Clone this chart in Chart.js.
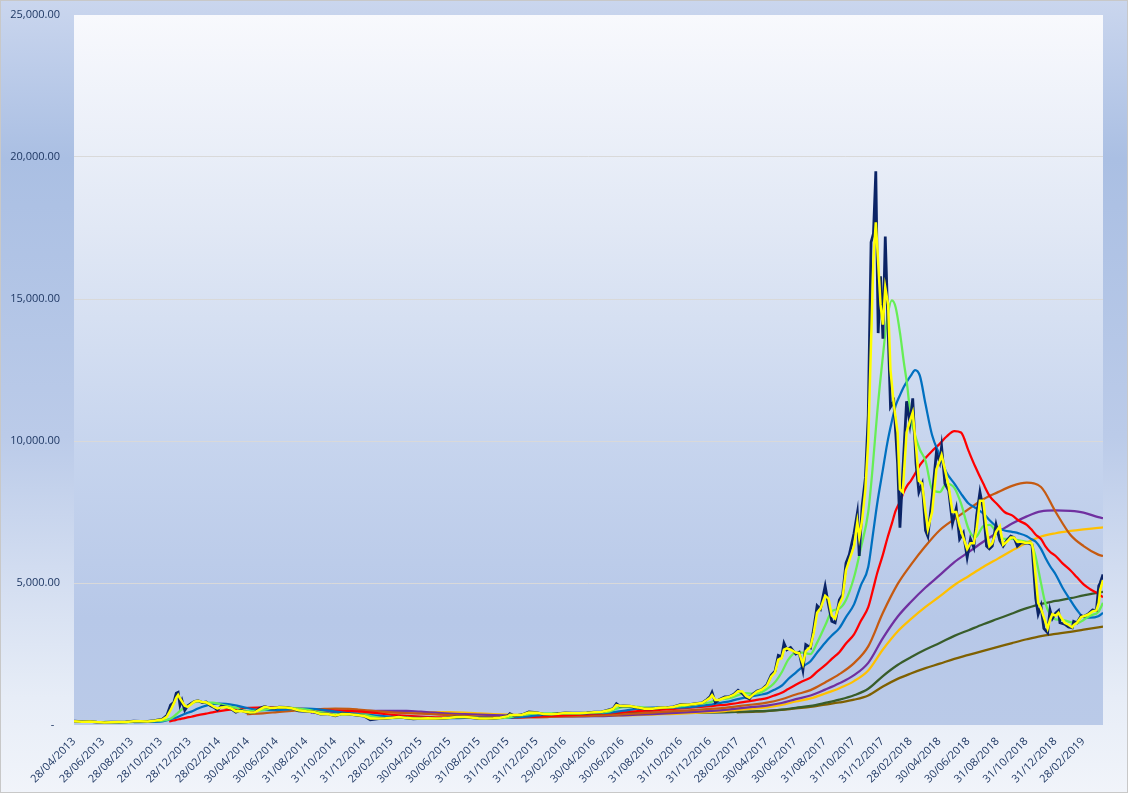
<!DOCTYPE html>
<html><head><meta charset="utf-8">
<script src="https://cdn.jsdelivr.net/npm/chart.js@4.4.1/dist/chart.umd.min.js"></script>
<style>html,body{margin:0;padding:0;background:#fff;}canvas{display:block;}</style>
</head><body>
<canvas id="c" width="1128" height="793"></canvas>
<script>
// ---------- tick labels (x axis) ----------
const tickLabels = ["28/04/2013","28/06/2013","28/08/2013","28/10/2013","28/12/2013","28/02/2014","30/04/2014","30/06/2014","31/08/2014","31/10/2014","31/12/2014","28/02/2015","30/04/2015","30/06/2015","31/08/2015","31/10/2015","31/12/2015","29/02/2016","30/04/2016","30/06/2016","31/08/2016","31/10/2016","31/12/2016","28/02/2017","30/04/2017","30/06/2017","31/08/2017","31/10/2017","31/12/2017","28/02/2018","30/04/2018","30/06/2018","31/08/2018","31/10/2018","31/12/2018","28/02/2019"];
const yTicks = [0, 5000, 10000, 15000, 20000, 25000];

// ---------- price and short average ----------
const priceDates = [
"28/04/2013","15/05/2013","01/06/2013","15/06/2013","01/07/2013","15/07/2013","01/08/2013","15/08/2013","01/09/2013","15/09/2013","01/10/2013","15/10/2013","01/11/2013","10/11/2013","18/11/2013","25/11/2013","30/11/2013","04/12/2013","08/12/2013","12/12/2013","18/12/2013","24/12/2013","31/12/2013",
"07/01/2014","15/01/2014","24/01/2014","01/02/2014","10/02/2014","18/02/2014","25/02/2014","05/03/2014","15/03/2014","25/03/2014","05/04/2014","15/04/2014","25/04/2014","05/05/2014","15/05/2014","25/05/2014","05/06/2014","15/06/2014","25/06/2014","05/07/2014","20/07/2014","01/08/2014","15/08/2014","01/09/2014","15/09/2014","01/10/2014","15/10/2014","01/11/2014","15/11/2014","01/12/2014","15/12/2014",
"01/01/2015","14/01/2015","01/02/2015","15/02/2015","01/03/2015","15/03/2015","01/04/2015","15/04/2015","01/05/2015","15/05/2015","01/06/2015","15/06/2015","01/07/2015","15/07/2015","01/08/2015","15/08/2015","01/09/2015","15/09/2015","01/10/2015","15/10/2015","01/11/2015","05/11/2015","15/11/2015","01/12/2015","15/12/2015",
"01/01/2016","15/01/2016","01/02/2016","15/02/2016","01/03/2016","15/03/2016","01/04/2016","15/04/2016","01/05/2016","15/05/2016","01/06/2016","10/06/2016","17/06/2016","24/06/2016","01/07/2016","15/07/2016","01/08/2016","15/08/2016","01/09/2016","15/09/2016","01/10/2016","15/10/2016","01/11/2016","15/11/2016","01/12/2016","15/12/2016","25/12/2016",
"01/01/2017","05/01/2017","12/01/2017","20/01/2017","01/02/2017","10/02/2017","20/02/2017","01/03/2017","10/03/2017","18/03/2017","25/03/2017","01/04/2017","10/04/2017","20/04/2017","01/05/2017","10/05/2017","18/05/2017","25/05/2017","01/06/2017","06/06/2017","12/06/2017","20/06/2017","01/07/2017","08/07/2017","16/07/2017","22/07/2017","01/08/2017","08/08/2017","15/08/2017","22/08/2017","01/09/2017","08/09/2017","15/09/2017","22/09/2017","01/10/2017","08/10/2017","15/10/2017","22/10/2017","01/11/2017","08/11/2017","12/11/2017","18/11/2017","25/11/2017","01/12/2017","07/12/2017","12/12/2017","17/12/2017","22/12/2017","27/12/2017",
"01/01/2018","06/01/2018","12/01/2018","17/01/2018","24/01/2018","01/02/2018","06/02/2018","12/02/2018","20/02/2018","27/02/2018","05/03/2018","12/03/2018","18/03/2018","25/03/2018","01/04/2018","06/04/2018","15/04/2018","24/04/2018","01/05/2018","05/05/2018","12/05/2018","20/05/2018","28/05/2018","05/06/2018","12/06/2018","20/06/2018","28/06/2018","05/07/2018","12/07/2018","18/07/2018","25/07/2018","01/08/2018","08/08/2018","14/08/2018","20/08/2018","28/08/2018","05/09/2018","12/09/2018","20/09/2018","28/09/2018","05/10/2018","12/10/2018","20/10/2018","28/10/2018","05/11/2018","12/11/2018","15/11/2018","20/11/2018","25/11/2018","01/12/2018","07/12/2018","15/12/2018","20/12/2018","25/12/2018",
"01/01/2019","07/01/2019","10/01/2019","20/01/2019","28/01/2019","05/02/2019","08/02/2019","15/02/2019","24/02/2019","01/03/2019","10/03/2019","20/03/2019","28/03/2019","02/04/2019","05/04/2019","11/04/2019"];

const price = [
135,115,129,100,90,98,105,110,140,130,125,155,205,330,700,800,1120,1150,700,870,520,670,750,
830,860,790,810,680,620,530,670,630,580,450,520,460,430,450,580,650,600,590,630,620,590,500,480,470,380,395,325,400,380,350,
315,180,225,235,260,285,245,220,232,237,223,236,258,285,281,262,228,230,237,255,325,400,320,362,465,
434,375,372,400,430,415,417,428,450,457,538,577,750,665,676,665,606,567,572,607,614,638,729,712,754,778,896,
998,1150,790,895,989,995,1080,1220,1110,970,920,1080,1200,1250,1420,1760,1890,2450,2400,2880,2650,2730,2500,2560,1930,2830,2720,3410,4200,4080,4890,4230,3650,3600,4400,4600,5700,6000,6750,7460,5950,7700,8700,10900,17000,17300,19500,13800,15800,
13600,17200,13900,11200,11400,9200,6950,8900,11400,10600,11500,9200,8200,8500,6850,6640,8000,9600,9250,9800,8500,8250,7100,7630,6550,6770,5900,6550,6250,7380,8200,7600,6300,6200,6300,7050,6500,6300,6500,6650,6600,6300,6420,6400,6400,6350,5600,4450,3900,4200,3400,3250,4050,3750,
3940,4030,3600,3550,3450,3420,3650,3600,3850,3820,3900,4050,4030,4900,5000,5300];

const maShort = [
135,118,124,104,92,96,103,108,134,131,126,148,195,290,520,760,960,1060,940,830,680,640,720,
820,850,810,800,720,640,580,620,630,590,480,490,470,440,445,540,640,610,595,625,620,590,520,485,470,390,390,335,385,375,350,
318,230,230,235,258,280,250,225,230,236,226,234,255,280,282,265,230,230,237,252,310,360,340,360,440,
430,390,375,395,425,415,417,427,448,455,520,570,700,680,670,665,620,575,575,605,612,636,715,715,745,775,880,
960,1050,880,880,960,990,1060,1190,1180,1020,960,1060,1180,1240,1380,1700,1850,2300,2350,2650,2700,2650,2550,2530,2150,2600,2750,3250,3950,4100,4550,4450,3850,3750,4250,4500,5450,5800,6300,7150,6600,7200,8300,10000,13500,16400,17700,16300,14800,
14100,15400,14800,12500,11300,10300,8300,8200,10300,10700,11000,9800,8600,8500,7500,6900,7500,9000,9300,9500,9000,8400,7500,7500,7000,6600,6200,6400,6400,6900,7900,7900,6900,6300,6400,6800,7000,6350,6450,6600,6600,6450,6450,6420,6420,6380,6100,5200,4300,4100,3800,3400,3700,3900,
3850,3950,3850,3600,3530,3440,3520,3600,3800,3830,3880,4000,4030,4300,4750,5100];

// ---------- medium averages ----------
const maDates = [
"28/04/2013","01/06/2013","01/07/2013","01/08/2013","01/09/2013","01/10/2013","01/11/2013","15/11/2013","25/11/2013","01/12/2013","08/12/2013","15/12/2013","22/12/2013",
"01/01/2014","15/01/2014","01/02/2014","15/02/2014","01/03/2014","15/03/2014","01/04/2014","01/05/2014","01/06/2014","01/07/2014","01/08/2014","01/09/2014","01/10/2014","01/11/2014","01/12/2014",
"01/01/2015","01/02/2015","01/03/2015","01/04/2015","01/05/2015","01/06/2015","01/07/2015","01/08/2015","01/09/2015","01/10/2015","01/11/2015","15/11/2015","01/12/2015",
"01/01/2016","01/02/2016","01/03/2016","01/04/2016","01/05/2016","01/06/2016","15/06/2016","01/07/2016","01/08/2016","01/09/2016","01/10/2016","01/11/2016","01/12/2016",
"01/01/2017","15/01/2017","01/02/2017","15/02/2017","01/03/2017","15/03/2017","01/04/2017","15/04/2017","01/05/2017","15/05/2017","01/06/2017","15/06/2017","01/07/2017","15/07/2017","01/08/2017","15/08/2017","01/09/2017","15/09/2017","01/10/2017","15/10/2017","01/11/2017","15/11/2017","01/12/2017","10/12/2017","20/12/2017",
"01/01/2018","10/01/2018","20/01/2018","28/01/2018","07/02/2018","14/02/2018","21/02/2018","01/03/2018","10/03/2018","20/03/2018","01/04/2018","15/04/2018","01/05/2018","15/05/2018","01/06/2018","15/06/2018","01/07/2018","15/07/2018","01/08/2018","15/08/2018","01/09/2018","15/09/2018","01/10/2018","15/10/2018","01/11/2018","10/11/2018","20/11/2018","01/12/2018","10/12/2018","20/12/2018",
"01/01/2019","15/01/2019","01/02/2019","15/02/2019","01/03/2019","15/03/2019","01/04/2019","11/04/2019"];

const maGreen = [
null,null,112,95,108,128,155,200,300,390,500,580,660,
760,830,790,790,740,680,620,490,520,615,600,540,450,375,370,
355,260,240,255,235,236,242,275,245,237,262,310,345,
405,410,405,415,440,470,560,630,640,590,608,660,730,
800,880,920,960,1050,1120,1100,1130,1270,1450,1850,2300,2550,2550,2500,2900,3500,4000,4100,4400,5200,6200,7500,9000,11000,
13000,14300,14950,14700,13700,12800,12000,10800,10200,9700,9300,8300,8200,8500,8350,7800,6900,6600,7000,7050,6700,6550,6550,6500,6450,6400,5900,5000,4300,3900,
3720,3700,3620,3580,3700,3850,3980,4300];

const maBlue = [
null,null,null,null,103,110,130,190,240,265,320,370,420,
470,580,680,740,750,740,700,590,520,525,560,580,545,470,410,
370,327,287,262,248,246,240,250,256,255,255,268,283,
335,382,405,409,415,432,465,502,573,612,617,613,648,
716,760,803,850,913,965,1016,1060,1114,1230,1382,1620,1847,2050,2246,2550,2900,3150,3409,3800,4248,4900,5567,6600,7800,
9000,9900,10700,11250,11650,11900,12100,12300,12500,12300,11300,10200,9500,8900,8500,8150,7800,7650,7450,7200,6950,6850,6800,6750,6650,6550,6450,6200,5900,5600,
5300,4850,4400,4050,3800,3780,3830,3950];

const maRed = [
null,null,null,null,null,null,null,130,160,185,210,235,260,
290,345,400,445,485,520,555,600,625,620,590,557,530,507,490,
465,410,355,320,292,272,253,249,251,249,250,258,267,
295,319,339,364,392,416,435,456,493,519,550,583,625,
668,690,709,740,775,815,857,900,947,1030,1133,1270,1419,1540,1668,1880,2106,2330,2564,2870,3193,3650,4151,4700,5350,
6000,6550,7100,7550,7900,8200,8420,8600,8850,9150,9400,9650,9900,10150,10350,10300,9650,9100,8500,8050,7750,7500,7380,7200,7050,6900,6700,6550,6300,6100,
5950,5700,5450,5200,4950,4780,4620,4500];

// ---------- long averages ----------
const longDates = [
"28/04/2014","01/06/2014","01/07/2014","01/08/2014","01/09/2014","10/09/2014","01/10/2014","01/11/2014","01/12/2014","19/12/2014",
"01/01/2015","01/02/2015","01/03/2015","01/04/2015","01/05/2015","01/06/2015","01/07/2015","01/08/2015","01/09/2015","01/10/2015","01/11/2015","01/12/2015",
"01/01/2016","23/01/2016","01/02/2016","01/03/2016","01/04/2016","01/05/2016","01/06/2016","01/07/2016","01/08/2016","01/09/2016","01/10/2016","01/11/2016","01/12/2016",
"01/01/2017","01/02/2017","26/02/2017","01/04/2017","01/05/2017","01/06/2017","01/07/2017","01/08/2017","01/09/2017","01/10/2017","01/11/2017","01/12/2017",
"01/01/2018","01/02/2018","01/03/2018","01/04/2018","01/05/2018","01/06/2018","01/07/2018","01/08/2018","01/09/2018","01/10/2018","01/11/2018","01/12/2018",
"01/01/2019","01/02/2019","01/03/2019","01/04/2019","11/04/2019"];

const maBrown = [
380,412,454,498,534,545,561,578,565,545,
527,478,443,417,397,378,347,319,295,277,268,267,
272,280,286,300,312,328,346,380,412,439,470,501,532,
565,607,655,722,787,907,1073,1227,1499,1790,2179,2769,
3950,4958,5636,6300,6858,7250,7600,7950,8200,8420,8530,8380,
7500,6700,6300,6000,5950];

const maPurple = [
null,null,null,null,null,440,445,453,470,480,
485,493,498,494,468,432,401,381,364,350,334,318,
308,304,303,302,305,309,319,343,368,387,410,434,462,
496,536,580,635,685,775,911,1037,1245,1467,1754,2188,
3059,3811,4331,4841,5274,5736,6088,6452,6788,7093,7347,7521,
7553,7536,7476,7318,7280];

const maGold = [
null,null,null,null,null,null,null,null,null,420,
423,430,437,446,452,457,455,438,410,382,363,353,
351,348,345,335,325,321,323,337,352,365,383,403,427,
456,491,528,575,624,708,827,935,1110,1297,1546,1920,
2659,3293,3727,4157,4528,4929,5240,5562,5859,6146,6421,6636,
6752,6832,6888,6941,6960];

const maDarkGreen = [
null,null,null,null,null,null,null,null,null,null,
null,null,null,null,null,null,null,null,null,null,null,null,
null,365,366,375,384,395,405,421,434,435,428,423,425,
433,447,462,480,498,540,607,672,778,892,1046,1276,
1725,2113,2386,2656,2888,3139,3339,3546,3739,3928,4113,4265,
4367,4464,4562,4663,4690];

const maOlive = [
null,null,null,null,null,null,null,null,null,null,
null,null,null,null,null,null,null,null,null,null,null,null,
null,null,null,null,null,null,null,null,null,null,null,null,null,
null,null,443,465,489,529,584,635,716,793,891,1042,
1354,1624,1814,2001,2160,2331,2467,2612,2749,2885,3019,3131,
3206,3280,3356,3436,3460];

// ---------- helpers ----------
function toUTC(s){ const p = s.split('/').map(Number); return Date.UTC(p[2], p[1]-1, p[0]); }
const origin = toUTC(priceDates[0]);
function dayIndex(s){ return Math.round((toUTC(s) - origin) / 86400000); }
function pts(dates, vals){ return dates.map((d, i) => ({ x: dayIndex(d), y: vals[i] })); }
function fmt(v){ return String(Math.round(v)).replace(/\B(?=(\d{3})+(?!\d))/g, ',') + '.00'; }

const FONT = '"Open Sans", "Noto Sans", sans-serif';
const TEXT = '#1F3864';

function line(label, data, color, width, tension){
  return { label, data, borderColor: color, backgroundColor: color, borderWidth: width,
    pointRadius: 0, pointHoverRadius: 0, fill: false, tension: tension,
    cubicInterpolationMode: tension ? 'monotone' : 'default', spanGaps: false };
}

const bgPlugin = {
  id: 'bg',
  beforeDraw(chart){
    const { ctx, chartArea: a, width, height } = chart;
    ctx.save();
    const g = ctx.createLinearGradient(0, 0, 0, height);
    g.addColorStop(0, '#CAD6EE');
    g.addColorStop(0.2, '#AABFE3');
    g.addColorStop(0.55, '#BBCBE9');
    g.addColorStop(0.88, '#E7EDF7');
    g.addColorStop(1, '#F1F4FA');
    ctx.fillStyle = g;
    ctx.fillRect(0, 0, width, height);
    const g2 = ctx.createLinearGradient(0, a.top, 0, a.bottom);
    g2.addColorStop(0, '#F8F9FD');
    g2.addColorStop(0.3, '#E1E8F5');
    g2.addColorStop(0.6, '#C7D5EE');
    g2.addColorStop(0.85, '#B7C8E8');
    g2.addColorStop(1, '#BACAE8');
    ctx.fillStyle = g2;
    ctx.fillRect(a.left, a.top, a.right - a.left, a.bottom - a.top);
    ctx.restore();
  },
  afterDraw(chart){
    const { ctx, width, height } = chart;
    ctx.save();
    ctx.strokeStyle = '#C8C8C8';
    ctx.lineWidth = 1;
    ctx.strokeRect(0.5, 0.5, width - 1, height - 1);
    ctx.restore();
  }
};

new Chart(document.getElementById('c'), {
  type: 'line',
  data: {
    datasets: [
      line('MA short', pts(priceDates, maShort), '#FFFF00', 2.5, 0),
      line('Price', pts(priceDates, price), '#0B2466', 2.75, 0),
      line('MA green', pts(maDates, maGreen), '#66EE55', 2.25, 0.4),
      line('MA blue', pts(maDates, maBlue), '#0070C0', 2.25, 0.4),
      line('MA red', pts(maDates, maRed), '#FF0000', 2.25, 0.4),
      line('MA brown', pts(longDates, maBrown), '#C55A11', 2.25, 0.4),
      line('MA purple', pts(longDates, maPurple), '#7030A0', 2.25, 0.4),
      line('MA gold', pts(longDates, maGold), '#FFC000', 2.25, 0.4),
      line('MA dark green', pts(longDates, maDarkGreen), '#385D2A', 2.25, 0.4),
      line('MA olive', pts(longDates, maOlive), '#7F6000', 2.25, 0.4)
    ]
  },
  options: {
    responsive: false,
    animation: false,
    events: [],
    layout: { padding: { top: 15, right: 25, left: 0, bottom: 0 } },
    plugins: { legend: { display: false }, tooltip: { enabled: false } },
    scales: {
      x: {
        type: 'linear',
        min: 0,
        max: dayIndex(priceDates[priceDates.length - 1]),
        afterBuildTicks(scale){ scale.ticks = tickLabels.map(s => ({ value: dayIndex(s) })); },
        afterFit(scale){ scale.height = 68; scale.paddingLeft = 0; scale.paddingRight = 0; },
        grid: { display: false, drawTicks: false },
        border: { display: false },
        ticks: {
          autoSkip: false, minRotation: 45, maxRotation: 45, padding: 10,
          font: { family: FONT, size: 11 }, color: TEXT,
          callback: (v, i) => tickLabels[i]
        }
      },
      y: {
        min: 0, max: 25000,
        afterBuildTicks(scale){ scale.ticks = yTicks.map(v => ({ value: v })); },
        afterFit(scale){ scale.width = 74; scale.paddingTop = 0; scale.paddingBottom = 0; },
        grid: {
          drawTicks: false,
          color: ctx => (ctx.tick && (ctx.tick.value === 0 || ctx.tick.value === 25000)) ? 'rgba(0,0,0,0)' : '#D9D9D9',
          lineWidth: 1
        },
        border: { display: false },
        ticks: {
          padding: 14,
          font: { family: FONT, size: 11 }, color: TEXT,
          callback: v => v === 0 ? '-  ' : fmt(v)
        }
      }
    }
  },
  plugins: [bgPlugin]
});
</script>
</body></html>
